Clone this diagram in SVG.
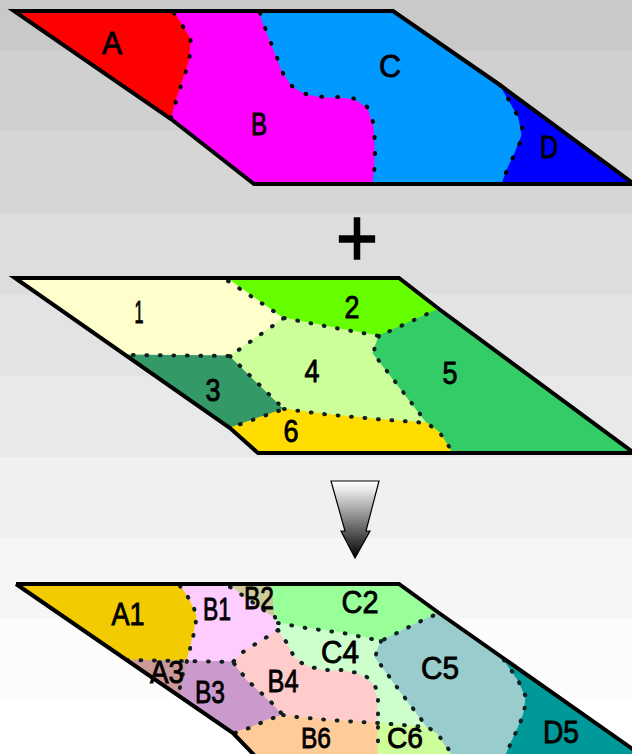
<svg xmlns="http://www.w3.org/2000/svg" width="632" height="754" viewBox="0 0 632 754">
<style>
.outline{fill:none;stroke:#000;stroke-width:4;stroke-linejoin:miter}
.dots{fill:none;stroke:#000;stroke-width:4;stroke-linecap:round;stroke-linejoin:round;stroke-dasharray:.8 15.2}
.dots2{fill:none;stroke:#102020;stroke-width:4;stroke-linecap:round;stroke-linejoin:round;stroke-dasharray:.8 12.7}
text{font-family:"Liberation Sans",Arial,sans-serif;font-size:32px;fill:#000;stroke:#000;stroke-width:.9;text-anchor:middle}
</style>
<defs>
<linearGradient id="arrowGrad" x1="0" y1="0" x2="0" y2="1">
<stop offset="0" stop-color="#ffffff"/>
<stop offset="0.12" stop-color="#e8e8e8"/>
<stop offset="1" stop-color="#000000"/>
</linearGradient>
</defs>
<g id="background">
<rect x="0" y="0" width="632" height="51" fill="#c9c9c9"/>
<rect x="0" y="51" width="632" height="80" fill="#d0d0d0"/>
<rect x="0" y="131" width="632" height="82" fill="#d6d6d6"/>
<rect x="0" y="213" width="632" height="81" fill="#dddddd"/>
<rect x="0" y="294" width="632" height="82" fill="#e3e3e3"/>
<rect x="0" y="376" width="632" height="81" fill="#e9e9e9"/>
<rect x="0" y="457" width="632" height="81" fill="#f0f0f0"/>
<rect x="0" y="538" width="632" height="81" fill="#f6f6f6"/>
<rect x="0" y="619" width="632" height="81" fill="#fcfcfc"/>
<rect x="0" y="700" width="632" height="54" fill="#ffffff"/>
</g>

<g id="panel-top">
<g id="region-A"><polygon fill="#ff0000" stroke="#ff0000" points="14,11 174,11 190,37 191,43 189,62 183,80 177,98 171,119"/><text x="112" y="54" textLength="20" lengthAdjust="spacingAndGlyphs">A</text></g>
<g id="region-B"><polygon fill="#ff00ff" stroke="#ff00ff" points="174,11 260,11 262,20 269,38 276,55 282,71 292,86 306,94 323,97 339,97 355,99 368,108 374,127 375,145 375,163 373,184 254,184 171,119 177,98 183,80 189,62 191,43 190,37"/><text x="259" y="135" textLength="16" lengthAdjust="spacingAndGlyphs">B</text></g>
<g id="region-C"><polygon fill="#0099ff" stroke="#0099ff" points="260,11 393,11 500,85 510,102 519,118 522,135 515,153 507,170 502,184 373,184 375,163 375,145 374,127 368,108 355,99 339,97 323,97 306,94 292,86 282,71 276,55 269,38 262,20"/><text x="390" y="77" textLength="22" lengthAdjust="spacingAndGlyphs">C</text></g>
<g id="region-D"><polygon fill="#0000ff" stroke="#0000ff" points="500,85 634,184 502,184 507,170 515,153 522,135 519,118 510,102"/><text x="549" y="158" textLength="18" lengthAdjust="spacingAndGlyphs">D</text></g>
<path class="dots" d="M174,13 L190,37 L191,43 L189,62 L183,80 L177,98 L171,118"/>
<path class="dots" d="M260,13 L262,20 L269,38 L276,55 L282,71 Q286,81 292,86 Q298,92 306,94 L323,97 L339,97 Q349,97 355,99 Q363,102 368,108 Q372,116 374,127 L375,145 L375,163 L373,184"/>
<path class="dots" d="M500,85 L510,102 L519,118 Q523,127 522,135 Q520,145 515,153 L507,170 L502,184"/>
<path class="outline" d="M14,11 H393 L500,85 L634,184 H254 L171,119 Z"/>
</g>

<text id="plus" x="357" y="266" style="font-size:84px;stroke-width:1.6" textLength="42" lengthAdjust="spacingAndGlyphs">+</text>

<g id="panel-middle">
<g id="region-1"><polygon fill="#ffffcc" stroke="#ffffcc" points="15,278 228,278 284,318 230,356 123,355"/><text x="139" y="323" textLength="9" lengthAdjust="spacingAndGlyphs">1</text></g>
<g id="region-2"><polygon fill="#66ff00" stroke="#66ff00" points="228,278 399,278 439,309 403,325 379,336 330,327 284,318"/><text x="352" y="318" textLength="15" lengthAdjust="spacingAndGlyphs">2</text></g>
<g id="region-3"><polygon fill="#339966" stroke="#339966" points="123,355 230,356 284,409 258,418 230,428"/><text x="213" y="401" textLength="15" lengthAdjust="spacingAndGlyphs">3</text></g>
<g id="region-4"><polygon fill="#ccff99" stroke="#ccff99" points="284,318 330,327 379,336 373,353 427,423 375,419 323,414 284,409 230,356"/><text x="312" y="382" textLength="15" lengthAdjust="spacingAndGlyphs">4</text></g>
<g id="region-5"><polygon fill="#33cc66" stroke="#33cc66" points="439,309 634,453 452,453 440,433 427,423 373,353 379,336 403,325"/><text x="450" y="384" textLength="15" lengthAdjust="spacingAndGlyphs">5</text></g>
<g id="region-6"><polygon fill="#ffdd00" stroke="#ffdd00" points="230,428 258,418 284,409 323,414 375,419 427,423 440,433 452,453 258,453"/><text x="291" y="442" textLength="15" lengthAdjust="spacingAndGlyphs">6</text></g>
<path class="dots2" d="M228,281 L284,318 L230,356 L123,355"/>
<path class="dots2" d="M284,318 L330,327 L379,336 L403,325 L436,310"/>
<path class="dots2" d="M379,336 L373,353 L427,423"/>
<path class="dots2" d="M230,356 L284,409 L258,418 L232,427"/>
<path class="dots2" d="M284,409 L323,414 L375,419 L427,423 L440,433 L452,451"/>
<path class="outline" d="M15,278 H399 L439,309 L634,453 H258 L230,428 Z"/>
</g>

<g id="arrow">
<polygon points="331,481 379,481 366,531 370,531 355,558 341,531 345,531" fill="url(#arrowGrad)" stroke="#000" stroke-width="1.2"/>
</g>

<g id="panel-bottom">
<g id="region-A1"><polygon fill="#f2cc00" stroke="#f2cc00" points="16,584 180,584 190,600 197,615 194,633 189,653 187,661 127,660"/><text x="128" y="625" textLength="33" lengthAdjust="spacingAndGlyphs">A1</text></g>
<g id="region-B1"><polygon fill="#ffccff" stroke="#ffccff" points="180,584 230,584 242,595 268,613 275,617 278,630 267,637 257,643 243,652 233,662 187,661 189,653 194,633 197,615 190,600"/><text x="217" y="620" textLength="28" lengthAdjust="spacingAndGlyphs">B1</text></g>
<g id="region-A3"><polygon fill="#cc9999" stroke="#cc9999" points="127,660 187,661 185,672 180,697"/></g>
<g id="region-B3"><polygon fill="#cc99cc" stroke="#cc99cc" points="187,661 233,662 247,680 258,690 272,703 283,715 267,720 252,727 233,733 180,697 185,672"/></g>
<g id="region-B2"><polygon fill="#cccc99" stroke="#cccc99" points="230,584 272,584 275,617 268,613 242,595"/></g>
<g id="region-C2"><polygon fill="#99ff99" stroke="#99ff99" points="272,584 399,584 439,613 419,622 381,641 343,633 306,628 278,623 275,617"/></g>
<g id="region-B4"><polygon fill="#ffcccc" stroke="#ffcccc" points="278,630 287,643 295,657 310,667 327,670 343,670 358,673 373,683 378,698 378,723 360,722 328,720 297,717 283,715 272,703 258,690 247,680 233,662 243,652 257,643 267,637"/></g>
<g id="region-C4"><polygon fill="#ccffcc" stroke="#ccffcc" points="278,623 306,628 343,633 381,641 375,657 399,690 427,727 378,723 378,698 373,683 358,673 343,670 327,670 310,667 295,657 287,643 278,630 275,617"/></g>
<g id="region-B6"><polygon fill="#ffcc99" stroke="#ffcc99" points="233,733 252,727 267,720 283,715 297,717 328,720 360,722 378,723 378,755 254,755"/></g>
<g id="region-C6"><polygon fill="#ccff99" stroke="#ccff99" points="378,723 427,727 437,733 452,755 378,755"/></g>
<g id="region-C5"><polygon fill="#99cccc" stroke="#99cccc" points="381,641 419,622 439,613 504,660 518,680 526,697 524,713 518,728 510,745 506,755 452,755 437,733 427,727 399,690 375,657"/></g>
<g id="region-D5"><polygon fill="#009999" stroke="#009999" points="504,660 634,750 634,755 506,755 510,745 518,728 524,713 526,697 518,680"/></g>
<path class="dots2" d="M180,586 L190,600 L197,615 L194,633 L189,653 L187,661 L183,673 L179,692"/>
<path class="dots2" d="M127,660 L187,661 L233,662 L247,680 L258,690 L272,703 L283,715 L267,720 L252,727 L235,733"/>
<path class="dots2" d="M230,587 L242,595 L268,613 L275,617 L278,630 L287,643 Q290,651 295,657 Q301,664 310,667 L327,670 L343,670 L358,673 Q368,676 373,683 Q378,690 378,698 L378,754"/>
<path class="dots2" d="M278,630 L267,637 L257,643 L243,652 L233,662"/>
<path class="dots2" d="M278,623 L306,628 L343,633 L381,641 L419,622 L437,614"/>
<path class="dots2" d="M381,641 L375,657 L399,690 L427,727 L437,733 L452,754"/>
<path class="dots2" d="M283,715 L297,717 L328,720 L360,722 L378,723 L427,727"/>
<path class="dots2" d="M504,660 L518,680 L526,697 L524,713 L518,728 L510,745 L506,754"/>
<path class="outline" d="M16,584 H399 L439,613 L634,750 M16,584 L233,733 L255,756"/>
<g id="labels-bottom">
<text x="167" y="683" textLength="34" lengthAdjust="spacingAndGlyphs">A3</text>
<text x="210" y="703" textLength="30" lengthAdjust="spacingAndGlyphs">B3</text>
<text x="259" y="609" textLength="30" lengthAdjust="spacingAndGlyphs">B2</text>
<text x="360" y="613" textLength="37" lengthAdjust="spacingAndGlyphs">C2</text>
<text x="283" y="692" textLength="31" lengthAdjust="spacingAndGlyphs">B4</text>
<text x="340" y="663" textLength="38" lengthAdjust="spacingAndGlyphs">C4</text>
<text x="316" y="748" textLength="30" lengthAdjust="spacingAndGlyphs" style="font-size:30px">B6</text>
<text x="405" y="748" textLength="36" lengthAdjust="spacingAndGlyphs" style="font-size:30px">C6</text>
<text x="440" y="679" textLength="38" lengthAdjust="spacingAndGlyphs">C5</text>
<text x="561" y="743" textLength="36" lengthAdjust="spacingAndGlyphs">D5</text>
</g>
</g>
</svg>
